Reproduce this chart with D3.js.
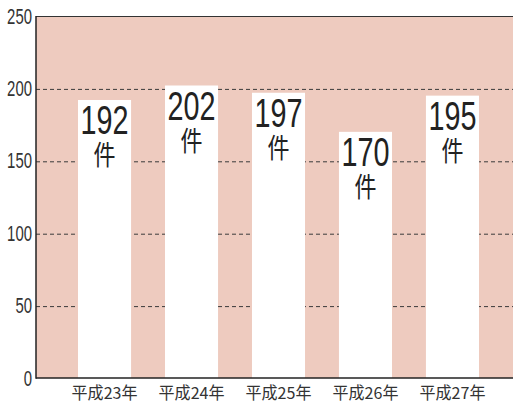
<!DOCTYPE html>
<html>
<head>
<meta charset="utf-8">
<script src="https://cdn.jsdelivr.net/npm/d3@7"></script>
<style>
body { margin: 0; background: #fff; }
</style>
</head>
<body>
<div id="chart"></div>
<script>
// data
var years = ['平成23年', '平成24年', '平成25年', '平成26年', '平成27年'];
var counts = [192, 202, 197, 170, 195];
var yTicks = [0, 50, 100, 150, 200, 250];
var gridTicks = [50, 100, 150, 200];
var unit = '件';

var W = 513, H = 403;
var plotLeft = 36, plotTop = 16, plotBottom = 378;
var latin = '"Liberation Sans", Arial, sans-serif';
var cjk = '"Noto Sans CJK JP", sans-serif';

var svg = d3.select('#chart').append('svg')
	.attr('width', W)
	.attr('height', H);

var y = d3.scaleLinear().domain([0, 250]).range([plotBottom, plotTop]);
var x = d3.scaleBand().domain(years)
	.range([plotLeft, 521])
	.paddingInner(0.39)
	.paddingOuter(0.483);

// pink plot area
svg.append('rect')
	.attr('x', plotLeft).attr('y', plotTop)
	.attr('width', W - plotLeft).attr('height', plotBottom - plotTop)
	.attr('fill', '#eecbbf');

// dashed grid, under the bars
var grid = svg.append('g')
	.attr('transform', 'translate(' + plotLeft + ',0.5)')
	.call(d3.axisLeft(y).tickValues(gridTicks).tickSize(-(W - plotLeft)).tickFormat(''));
grid.select('.domain').remove();
grid.selectAll('line')
	.attr('stroke', '#3a3a3a')
	.attr('stroke-dasharray', '4,3');

// bars
svg.selectAll('rect.bar').data(counts).enter().append('rect')
	.attr('class', 'bar')
	.attr('x', function(d, i) {return x(years[i]);})
	.attr('y', function(d) {return y(d);})
	.attr('width', x.bandwidth())
	.attr('height', function(d) {return plotBottom - y(d);})
	.attr('fill', '#fff');

// value labels (condensed digits)
svg.selectAll('text.val').data(counts).enter().append('text')
	.attr('class', 'val')
	.attr('x', function(d, i) {return x(years[i]) + x.bandwidth() / 2;})
	.attr('y', function(d) {return y(d) + 34;})
	.attr('text-anchor', 'middle')
	.attr('textLength', function(d) {return String(d).length * 16;})
	.attr('lengthAdjust', 'spacingAndGlyphs')
	.style('font-family', latin)
	.style('font-size', '40px')
	.attr('fill', '#222')
	.text(function(d) {return d;});

svg.selectAll('text.unit').data(counts).enter().append('text')
	.attr('class', 'unit')
	.attr('x', function(d, i) {return x(years[i]) + x.bandwidth() / 2;})
	.attr('y', function(d) {return y(d) + 65;})
	.attr('text-anchor', 'middle')
	.attr('textLength', 22)
	.attr('lengthAdjust', 'spacingAndGlyphs')
	.style('font-family', cjk)
	.style('font-size', '27px')
	.attr('fill', '#222')
	.text(unit);

// y axis labels
var yAxis = svg.append('g')
	.attr('transform', 'translate(' + plotLeft + ',0)')
	.call(d3.axisLeft(y).tickValues(yTicks).tickSize(0).tickPadding(4));
yAxis.select('.domain').remove();
yAxis.selectAll('text')
	.attr('textLength', function(d) {return String(d).length * 8.3;})
	.attr('lengthAdjust', 'spacingAndGlyphs')
	.style('font-family', latin)
	.style('font-size', '22px')
	.attr('fill', '#333');

// x axis labels
var xAxis = svg.append('g')
	.attr('transform', 'translate(0,' + plotBottom + ')')
	.call(d3.axisBottom(x).tickSize(0).tickPadding(9));
xAxis.select('.domain').remove();
xAxis.selectAll('text')
	.attr('textLength', 66)
	.attr('lengthAdjust', 'spacingAndGlyphs')
	.style('font-family', cjk)
	.style('font-size', '16.5px')
	.attr('fill', '#333');

// frame lines
svg.append('line')
	.attr('x1', plotLeft).attr('x2', W).attr('y1', plotTop + 0.5).attr('y2', plotTop + 0.5)
	.attr('stroke', '#333').attr('stroke-width', 1);
svg.append('line')
	.attr('x1', plotLeft).attr('x2', W).attr('y1', plotBottom).attr('y2', plotBottom)
	.attr('stroke', '#222').attr('stroke-width', 1.5);
svg.append('line')
	.attr('x1', plotLeft).attr('x2', plotLeft).attr('y1', plotTop).attr('y2', plotBottom + 0.75)
	.attr('stroke', '#222').attr('stroke-width', 1.5);
</script>
</body>
</html>
